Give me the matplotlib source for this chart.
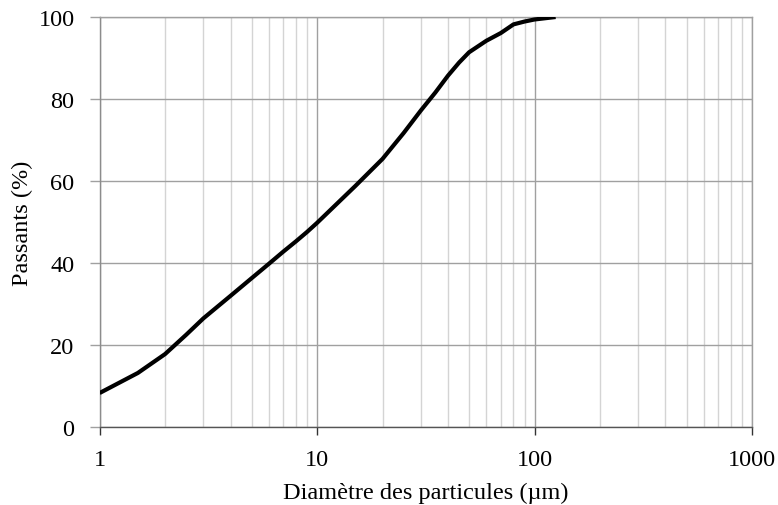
import matplotlib
matplotlib.use("Agg")
import matplotlib.pyplot as plt
from matplotlib.ticker import FixedLocator, NullFormatter, FixedFormatter

plt.rcParams['font.family'] = ['Liberation Serif', 'DejaVu Serif']

# Particle size distribution (cumulative passing)
diametre_um = [1, 1.5, 2, 2.5, 3, 4, 5, 6, 7, 8, 9, 10, 15, 20, 25, 30, 35, 40, 45,
               50, 60, 70, 80, 90, 100, 125]
passants_pct = [8.3, 13.2, 17.8, 22.5, 26.5, 32.0, 36.3, 39.8, 42.8, 45.3, 47.6, 49.8,
                58.8, 65.4, 71.7, 77.2, 81.6, 85.7, 88.9, 91.4, 94.2, 96.1, 98.2, 98.9,
                99.4, 100.0]

x_ticks = [1, 10, 100, 1000]
x_tick_labels = ["1", "10", "100", "1000"]
y_ticks = [0, 20, 40, 60, 80, 100]

fig = plt.figure(figsize=(7.78, 5.06), dpi=100)
ax = fig.add_axes([0.128, 0.154, 0.8386, 0.8104])

ax.set_xscale('log')
ax.set_xlim(1, 1000)
ax.set_ylim(0, 100)

minor = [m * 10 ** e for e in range(0, 3) for m in range(2, 10)]
ax.xaxis.set_major_locator(FixedLocator(x_ticks))
ax.xaxis.set_major_formatter(FixedFormatter(x_tick_labels))
ax.xaxis.set_minor_locator(FixedLocator(minor))
ax.xaxis.set_minor_formatter(NullFormatter())
ax.set_yticks(y_ticks)

ax.grid(True, which='major', axis='both', color='#a0a0a0', linewidth=1.0)
ax.grid(True, which='minor', axis='x', color='#d4d4d4', linewidth=1.0)
ax.set_axisbelow(True)

ax.plot(diametre_um, passants_pct, color='black', linewidth=3.0,
        solid_capstyle='butt', solid_joinstyle='round', zorder=3)

for side in ['top', 'right']:
    ax.spines[side].set_color('#a0a0a0')
    ax.spines[side].set_linewidth(1.0)
ax.spines['left'].set_color('#8c8c8c')
ax.spines['left'].set_linewidth(1.0)
ax.spines['bottom'].set_color('#555555')
ax.spines['bottom'].set_linewidth(1.0)

ax.tick_params(axis='x', which='major', direction='out', length=6, width=1.0, color='#333333',
               labelsize=17.5, pad=10)
ax.tick_params(axis='x', which='minor', length=0)
ax.tick_params(axis='y', which='major', direction='out', length=7, width=1.0, color='#a0a0a0',
               labelsize=17.5, pad=11)

ax.set_xlabel('Diamètre des particules (µm)', fontsize=17.5, labelpad=8)
ax.set_ylabel('Passants (%)', fontsize=17.5, labelpad=4)

fig.savefig('out.png', dpi=100)
